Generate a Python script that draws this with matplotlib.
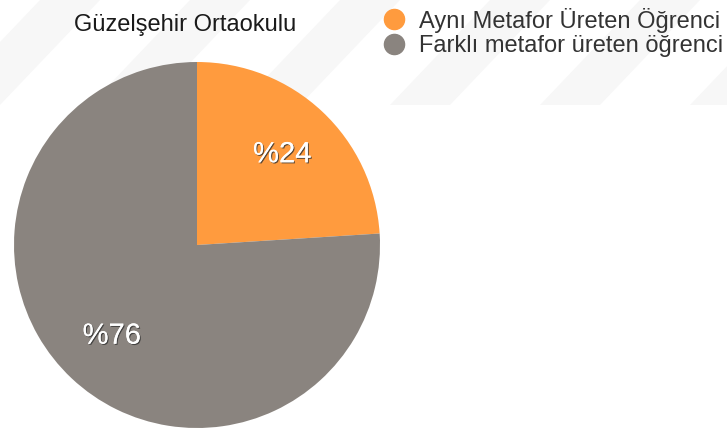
import matplotlib
matplotlib.use("Agg")
import matplotlib.pyplot as plt
import matplotlib.patheffects as pe
from matplotlib.lines import Line2D

title = "Güzelşehir Ortaokulu"
categories = ["Aynı Metafor Üreten Öğrenci", "Farklı metafor üreten öğrenci"]
values = [24, 76]
labels = ["%24", "%76"]
colors = ["#FF9B3E", "#8A847F"]

plt.rcParams['font.family'] = ['Liberation Sans', 'DejaVu Sans']

W, H = 727, 429
fig = plt.figure(figsize=(W/100, H/100), dpi=100)
fig.patch.set_facecolor("white")

# faint watermark bands
for x0 in [-60, 90, 240, 390, 540, 690]:
    poly = plt.Polygon([(x0/W, 1-105/H), ((x0+60)/W, 1-105/H), ((x0+160)/W, 1.0), ((x0+100)/W, 1.0)],
                       closed=True, transform=fig.transFigure, facecolor="#f7f7f7", edgecolor="none", zorder=0)
    fig.patches.append(poly)

cx, cy, r = 197, 245, 183
ax = fig.add_axes([(cx-r)/W, (H-cy-r)/H, 2*r/W, 2*r/H])
ax.set_zorder(1)
wedges, texts = ax.pie(values, colors=colors, startangle=90, counterclock=False,
                       labels=labels, labeldistance=0.68,
                       textprops=dict(color="white", fontsize=21, ha="center", va="center"))
for t in texts:
    t.set_path_effects([pe.withSimplePatchShadow(offset=(0.8, -0.8), shadow_rgbFace="#333333", alpha=0.8), pe.Normal()])
ax.set_xlim(-1, 1)
ax.set_ylim(-1, 1)
ax.set_aspect("equal")
ax.axis("off")

fig.text(185/W, 1-25/H, title, ha="center", va="center", fontsize=17, color="#1a1a1a")

handles = [Line2D([], [], marker="o", linestyle="none", markersize=14.5, markerfacecolor=c, markeredgecolor=c)
           for c in colors]
leg = fig.legend(handles, categories, loc="upper left", bbox_to_anchor=(364/W, 1+9/H),
                 frameon=False, fontsize=17, handletextpad=0.55, labelspacing=0.1,
                 handlelength=1.1, borderpad=0.2, labelcolor="#333333")

fig.savefig("out.png", dpi=100)
